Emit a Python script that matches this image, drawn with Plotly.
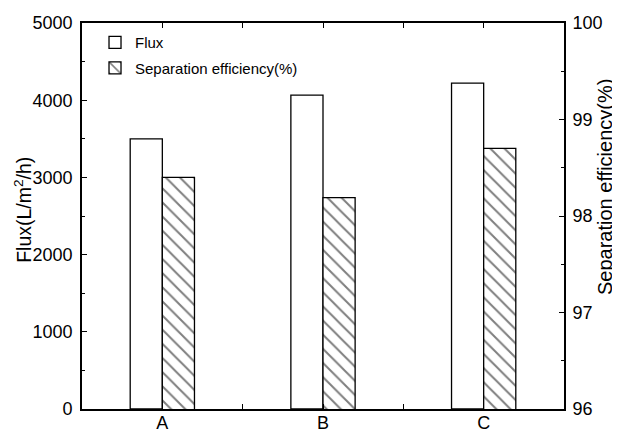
import plotly.graph_objects as go

categories = ["A", "B", "C"]
flux = [3500, 4065, 4220]
separation = [98.40, 98.19, 98.70]

left_title = "Flux(L/m<sup>2</sup>/h)"
right_title = "Separation efficiency(%)"

font_family = "Liberation Sans, Arial, sans-serif"
xpos = list(range(len(categories)))

fig = go.Figure()
fig.add_trace(go.Bar(
    x=xpos, y=flux, name="Flux", width=0.2, offset=-0.2,
    marker=dict(color="white", line=dict(color="black", width=1.3)),
    legendgroup="g1", yaxis="y",
))
fig.add_trace(go.Bar(
    x=xpos, y=separation, name="Separation efficiency(%)", width=0.2, offset=0,
    marker=dict(color="white", line=dict(color="black", width=1.3),
                pattern=dict(shape="\\", fgcolor="black", bgcolor="white",
                             size=10, solidity=0.2)),
    legendgroup="g2", yaxis="y2",
))

axis_common = dict(showline=True, linecolor="black", linewidth=1.6,
                   ticks="inside", tickcolor="black", tickwidth=1.2,
                   showgrid=False, zeroline=False, automargin=False)

fig.update_layout(
    width=612, height=426,
    margin=dict(l=74, r=56, t=15, b=25),
    paper_bgcolor="white", plot_bgcolor="white",
    barmode="overlay",
    font=dict(family=font_family, color="black", size=18),
    showlegend=True,
    legend=dict(x=0.027, y=0.992, xanchor="left", yanchor="top",
                bgcolor="rgba(0,0,0,0)", borderwidth=0,
                font=dict(size=15, family=font_family),
                traceorder="grouped", tracegroupgap=3),
    xaxis=dict(range=[-0.5, 2.5], tickvals=xpos, ticktext=categories,
               mirror="allticks", ticklen=5, ticklabelstandoff=-3,
               minor=dict(dtick=0.5, tick0=0, ticks="inside", ticklen=3,
                          tickcolor="black", showgrid=False),
               tickfont=dict(size=18), **axis_common),
    yaxis=dict(range=[0, 5000], dtick=1000, ticklen=5, ticklabelstandoff=4,
               minor=dict(dtick=500, ticks="inside", ticklen=3,
                          tickcolor="black", showgrid=False),
               tickfont=dict(size=18), **axis_common),
    yaxis2=dict(range=[96, 100], dtick=1, ticklen=5, overlaying="y", side="right",
                ticklabelstandoff=3,
                minor=dict(dtick=0.5, ticks="inside", ticklen=3,
                           tickcolor="black", showgrid=False),
                tickfont=dict(size=18), **axis_common),
    annotations=[
        dict(text=left_title, xref="paper", yref="paper", x=-0.1224, y=0.516,
             xanchor="center", yanchor="middle", textangle=-90, showarrow=False,
             font=dict(size=19.5, family=font_family)),
        dict(text=right_title, xref="paper", yref="paper", x=1.085, y=0.575,
             xanchor="center", yanchor="middle", textangle=-90, showarrow=False,
             font=dict(size=20, family=font_family)),
    ],
)

fig.write_html("out.html")
